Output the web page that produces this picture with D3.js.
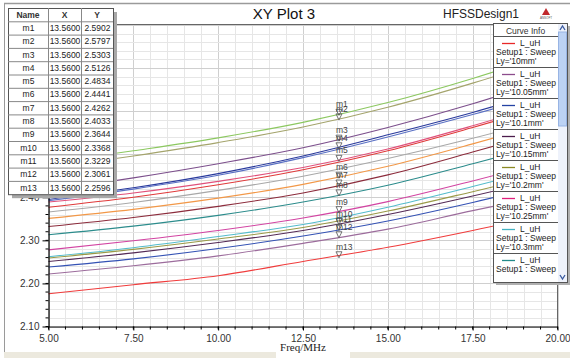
<!DOCTYPE html>
<html>
<head>
<meta charset="utf-8">
<script src="https://cdn.jsdelivr.net/npm/d3@7/dist/d3.min.js"></script>
<style>
  body { margin: 0; background: #fff; }
  svg { display: block; font-family: "Liberation Sans", Arial, sans-serif; }
</style>
</head>
<body>
<div id="chart"></div>
<script>
// Datos del grafico
const freqs = [5, 7.5, 10, 12.5, 15, 17.5, 20];
const xTickValues = [5, 7.5, 10, 12.5, 15, 17.5, 20];
const yTickValues = [2.1, 2.2, 2.3, 2.4, 2.5, 2.6, 2.7, 2.8];

const curveColors = [
  "#8cc860", "#a4a46c", "#7c4f8c", "#2a3a9c", "#5a70c4",
  "#e03a3a", "#e0507a", "#a8a8a8", "#f29848", "#8c2c3c",
  "#2c8c8c", "#d244a2", "#54bccc", "#9a9a48", "#542a56",
  "#3452b4", "#9c6c9c", "#f03c3c"
];
const curveValues = [
  [2.480, 2.508, 2.538, 2.574, 2.620, 2.676, 2.740],
  [2.468, 2.496, 2.527, 2.563, 2.609, 2.665, 2.728],
  [2.415, 2.445, 2.478, 2.515, 2.562, 2.617, 2.680],
  [2.395, 2.422, 2.455, 2.496, 2.545, 2.597, 2.655],
  [2.392, 2.419, 2.451, 2.492, 2.540, 2.592, 2.648],
  [2.377, 2.400, 2.429, 2.464, 2.508, 2.562, 2.620],
  [2.389, 2.410, 2.437, 2.469, 2.512, 2.566, 2.625],
  [2.366, 2.388, 2.416, 2.449, 2.490, 2.537, 2.590],
  [2.351, 2.372, 2.398, 2.430, 2.472, 2.524, 2.580],
  [2.332, 2.353, 2.379, 2.410, 2.452, 2.505, 2.560],
  [2.313, 2.333, 2.358, 2.389, 2.428, 2.478, 2.530],
  [2.278, 2.299, 2.323, 2.352, 2.390, 2.438, 2.490],
  [2.262, 2.283, 2.309, 2.337, 2.377, 2.425, 2.475],
  [2.259, 2.279, 2.303, 2.330, 2.368, 2.413, 2.460],
  [2.251, 2.271, 2.295, 2.323, 2.360, 2.403, 2.450],
  [2.238, 2.257, 2.281, 2.310, 2.345, 2.388, 2.435],
  [2.222, 2.241, 2.264, 2.293, 2.326, 2.369, 2.410],
  [2.176, 2.197, 2.218, 2.251, 2.284, 2.323, 2.366]
];

// Marcadores
const markerNames = ["m1","m2","m3","m4","m5","m6","m7","m8","m9","m10","m11","m12","m13"];
const markerX = 13.56;
const markerY = [2.5902, 2.5797, 2.5303, 2.5126, 2.4834, 2.4441, 2.4262, 2.4033, 2.3644, 2.3368, 2.3229, 2.3061, 2.2596];

// Leyenda
const legendLy = ["10mm", "10.05mm", "10.1mm", "10.15mm", "10.2mm", "10.25mm", "10.3mm", "10.35mm"];
const legendColors = ["#e82828", "#8c4c8c", "#2442a4", "#4c1c4c", "#8c8a24", "#e0207c", "#44b2c2", "#228a8a"];

const width = 570, height = 358;
const svg = d3.select("#chart").append("svg")
  .attr("width", width)
  .attr("height", height);

const x = d3.scaleLinear().domain([5, 20]).range([48.5, 557.5]);
const y = d3.scaleLinear().domain([2.1, 2.8]).range([326.5, 25]);

// Marco de la ventana
svg.append("line").attr("x1", 4).attr("x2", width).attr("y1", 3.5).attr("y2", 3.5)
  .attr("stroke", "#9a9a9a").attr("stroke-width", 1.5);
svg.append("line").attr("x1", 4.5).attr("x2", 4.5).attr("y1", 3).attr("y2", 352)
  .attr("stroke", "#9a9a9a");
svg.append("rect").attr("x", 4).attr("y", 352).attr("width", 272).attr("height", 6).attr("fill", "#ece9de");
svg.append("rect").attr("x", 350).attr("y", 352).attr("width", 220).attr("height", 6).attr("fill", "#ece9de");

// Rejilla
const minorX = d3.range(5, 20.001, 0.5);
const minorY = d3.range(2.1, 2.8001, 0.02);
const grid = svg.append("g");
grid.selectAll(".gx").data(minorX).enter().append("line")
  .attr("x1", d => Math.round(x(d)) + 0.5).attr("x2", d => Math.round(x(d)) + 0.5)
  .attr("y1", y(2.8)).attr("y2", y(2.1))
  .attr("stroke", d => Math.abs(d / 2.5 - Math.round(d / 2.5)) < 1e-6 ? "#cfcfcf" : "#e6e6e6");
grid.selectAll(".gy").data(minorY).enter().append("line")
  .attr("x1", x(5)).attr("x2", x(20))
  .attr("y1", d => Math.round(y(d)) + 0.5).attr("y2", d => Math.round(y(d)) + 0.5)
  .attr("stroke", d => Math.abs(d * 10 - Math.round(d * 10)) < 1e-6 ? "#cfcfcf" : "#e6e6e6");

// Borde superior y derecho
svg.append("line").attr("x1", x(5)).attr("x2", x(20)).attr("y1", 24.5).attr("y2", 24.5).attr("stroke", "#666");
svg.append("line").attr("x1", x(20)).attr("x2", x(20)).attr("y1", 24.5).attr("y2", y(2.1)).attr("stroke", "#666");

// Curvas
const line = d3.line()
  .x((d, i) => x(freqs[i]))
  .y(d => y(d))
  .curve(d3.curveMonotoneX);
svg.append("g").selectAll("path").data(curveValues).enter().append("path")
  .attr("d", line)
  .attr("fill", "none")
  .attr("stroke", (d, i) => curveColors[i])
  .attr("stroke-width", 1.1);

// Ejes (las etiquetas de 2.50 a 2.80 quedan tapadas por la tabla)
const xAxis = svg.append("g").attr("transform", `translate(0,${y(2.1)})`)
  .call(d3.axisBottom(x).tickValues(xTickValues).tickFormat(d3.format(".2f")).tickSize(4).tickSizeOuter(0));
xAxis.append("g").selectAll("line").data(minorX).enter().append("line")
  .attr("x1", d => x(d)).attr("x2", d => x(d)).attr("y1", 0).attr("y2", 3).attr("stroke", "#000");
const yAxis = svg.append("g").attr("transform", `translate(${x(5)},0)`)
  .call(d3.axisLeft(y).tickValues(yTickValues)
    .tickFormat(d => d < 2.45 ? d3.format(".2f")(d) : "")
    .tickSize(6).tickSizeOuter(0));
yAxis.append("g").selectAll("line").data(minorY).enter().append("line")
  .attr("x1", -3).attr("x2", 0).attr("y1", d => y(d)).attr("y2", d => y(d)).attr("stroke", "#000");
svg.selectAll(".domain").attr("stroke", "#000").attr("stroke-width", 1.2);
svg.selectAll(".tick text").attr("font-size", 10).attr("fill", "#333")
  .attr("font-family", "Liberation Sans, Arial, sans-serif");
xAxis.selectAll(".tick text").attr("dy", "0.85em");

svg.append("text").attr("x", 303).attr("y", 351).attr("text-anchor", "middle")
  .attr("font-family", "Liberation Serif, Times New Roman, serif").attr("font-size", 11).attr("fill", "#222")
  .text("Freq/MHz");

// Marcadores
const mk = svg.append("g");
markerY.forEach((v, i) => {
  const px = x(markerX), py = y(v);
  mk.append("path")
    .attr("d", `M${px - 3},${py - 6}L${px + 3},${py - 6}L${px},${py}Z`)
    .attr("fill", "none").attr("stroke", "#555").attr("stroke-width", 0.8);
  mk.append("text").attr("x", px - 3).attr("y", py - 8)
    .attr("font-size", 8.5).attr("fill", "#444").text(markerNames[i]);
});

// Titulo
svg.append("text").attr("x", 284).attr("y", 19).attr("text-anchor", "middle")
  .attr("font-size", 15).attr("fill", "#111").text("XY Plot 3");
svg.append("text").attr("x", 519).attr("y", 18).attr("text-anchor", "end")
  .attr("font-size", 12).attr("fill", "#222").text("HFSSDesign1");
// Logo
svg.append("path").attr("d", "M546,8L550,15L542,15Z").attr("fill", "#c0282c");
svg.append("text").attr("x", 546).attr("y", 19).attr("text-anchor", "middle")
  .attr("font-size", 3).attr("fill", "#555").text("ANSOFT");

// Tabla de marcadores
const tX = 8, tY = 8, rowH = 13.3, colX = [8, 48, 81, 113];
const nRows = markerNames.length + 1;
const tab = svg.append("g");
tab.append("rect").attr("x", tX + 4).attr("y", tY + 4).attr("width", colX[3] - tX).attr("height", rowH * nRows)
  .attr("fill", "#a8a8a8");
tab.append("rect").attr("x", tX + 0.5).attr("y", tY + 0.5).attr("width", colX[3] - tX).attr("height", rowH * nRows)
  .attr("fill", "#fff").attr("stroke", "#555");
d3.range(1, nRows).forEach(r => {
  tab.append("line").attr("x1", tX).attr("x2", colX[3]).attr("y1", tY + r * rowH + 0.5).attr("y2", tY + r * rowH + 0.5)
    .attr("stroke", "#888");
});
[colX[1], colX[2]].forEach(cx => {
  tab.append("line").attr("x1", cx + 0.5).attr("x2", cx + 0.5).attr("y1", tY).attr("y2", tY + rowH * nRows)
    .attr("stroke", "#888");
});
const header = ["Name", "X", "Y"];
header.forEach((h, c) => {
  tab.append("text").attr("x", (colX[c] + colX[c + 1]) / 2).attr("y", tY + rowH / 2 + 3)
    .attr("text-anchor", "middle").attr("font-size", 8.5).attr("font-weight", "bold").attr("fill", "#333").text(h);
});
markerNames.forEach((n, i) => {
  const ry = tY + (i + 1) * rowH + rowH / 2 + 3;
  const cells = [n, markerX.toFixed(4), markerY[i].toFixed(4)];
  cells.forEach((t, c) => {
    tab.append("text").attr("x", (colX[c] + colX[c + 1]) / 2 + 0.5).attr("y", ry)
      .attr("text-anchor", "middle").attr("font-size", 8.5).attr("fill", "#222").text(t);
  });
});

// Leyenda
const lgX = 493, lgY = 23, lgW = 65, lgH = 259, entryH = 31;
const lg = svg.append("g");
lg.append("rect").attr("x", lgX + 3).attr("y", lgY + 3).attr("width", lgW + 9).attr("height", lgH).attr("fill", "#b0b0b0");
lg.append("rect").attr("x", lgX + 0.5).attr("y", lgY + 0.5).attr("width", lgW + 9).attr("height", lgH)
  .attr("fill", "#fff").attr("stroke", "#555");
lg.append("text").attr("x", lgX + lgW / 2).attr("y", lgY + 11).attr("text-anchor", "middle")
  .attr("font-size", 8.5).attr("fill", "#333").text("Curve Info");
const clip = svg.append("clipPath").attr("id", "lgclip");
clip.append("rect").attr("x", lgX).attr("y", lgY).attr("width", lgW).attr("height", lgH - 6);
const entries = lg.append("g").attr("clip-path", "url(#lgclip)");
legendLy.forEach((ly, i) => {
  const ey = lgY + 13 + i * entryH;
  entries.append("line").attr("x1", lgX + 1).attr("x2", lgX + lgW).attr("y1", ey + 0.5).attr("y2", ey + 0.5)
    .attr("stroke", "#555");
  entries.append("line").attr("x1", lgX + 9).attr("x2", lgX + 22).attr("y1", ey + 7.5).attr("y2", ey + 7.5)
    .attr("stroke", legendColors[i]).attr("stroke-width", 1.3);
  entries.append("text").attr("x", lgX + 27).attr("y", ey + 10).attr("font-size", 8.5).attr("fill", "#222").text("L_uH");
  entries.append("text").attr("x", lgX + 3).attr("y", ey + 19).attr("font-size", 8.5).attr("fill", "#222").text("Setup1 : Sweep");
  if (i < legendLy.length - 1) {
    entries.append("text").attr("x", lgX + 3).attr("y", ey + 28).attr("font-size", 8.5).attr("fill", "#222").text(`Ly='${ly}'`);
  }
});
// Barra de desplazamiento
const sbX = lgX + lgW;
lg.append("rect").attr("x", sbX).attr("y", lgY + 1).attr("width", 9).attr("height", lgH - 1).attr("fill", "#eef2fb");
lg.append("rect").attr("x", sbX + 0.5).attr("y", lgY + 9).attr("width", 8).attr("height", 94)
  .attr("fill", "#bcd2f4").attr("stroke", "#98b4e4");
lg.append("path").attr("d", `M${sbX + 2},${lgY + 7}L${sbX + 4.5},${lgY + 3}L${sbX + 7},${lgY + 7}`)
  .attr("fill", "none").attr("stroke", "#3a5aa0").attr("stroke-width", 1.3);
lg.append("path").attr("d", `M${sbX + 2},${lgY + lgH - 7}L${sbX + 4.5},${lgY + lgH - 3}L${sbX + 7},${lgY + lgH - 7}`)
  .attr("fill", "none").attr("stroke", "#3a5aa0").attr("stroke-width", 1.3);
</script>
</body>
</html>
